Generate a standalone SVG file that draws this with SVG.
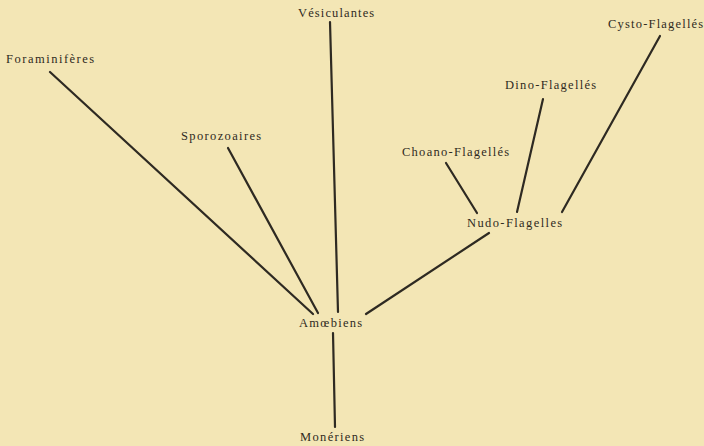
<svg xmlns="http://www.w3.org/2000/svg" width="704" height="446" viewBox="0 0 704 446">
<style>
.bg{fill:#f3e6b5}
.lbl{font-family:"Liberation Serif","DejaVu Serif",serif;font-size:12.5px;fill:#2f2a22;letter-spacing:0.8px}
.ln{stroke:#2e2a22;stroke-width:2.2;stroke-linecap:round;fill:none}
</style>
<rect class="bg" x="0" y="0" width="704" height="446"/>
<g id="connectors">
<line class="ln" x1="50" y1="72" x2="313" y2="314"/>
<line class="ln" x1="330" y1="22" x2="338" y2="312"/>
<line class="ln" x1="228" y1="148" x2="318" y2="313"/>
<line class="ln" x1="366" y1="314" x2="489" y2="233"/>
<line class="ln" x1="446" y1="163" x2="477" y2="213"/>
<line class="ln" x1="543" y1="99" x2="517" y2="212"/>
<line class="ln" x1="660" y1="36" x2="562" y2="212"/>
<line class="ln" x1="333" y1="333" x2="335" y2="427"/>
</g>
<g id="foraminiferes"><text class="lbl" x="6" y="63" textLength="89">Foraminifères</text></g>
<g id="vesiculantes"><text class="lbl" x="298" y="17" textLength="77">Vésiculantes</text></g>
<g id="cysto"><text class="lbl" x="608" y="28" textLength="96">Cysto-Flagellés</text></g>
<g id="dino"><text class="lbl" x="505" y="89" textLength="92">Dino-Flagellés</text></g>
<g id="sporozoaires"><text class="lbl" x="181" y="140" textLength="81">Sporozoaires</text></g>
<g id="choano"><text class="lbl" x="402" y="156" textLength="108">Choano-Flagellés</text></g>
<g id="nudo"><text class="lbl" x="467" y="227" textLength="96">Nudo-Flagelles</text></g>
<g id="amoebiens"><text class="lbl" x="299" y="327" textLength="64">Amœbiens</text></g>
<g id="moneriens"><text class="lbl" x="300" y="441" textLength="65">Monériens</text></g>
</svg>
